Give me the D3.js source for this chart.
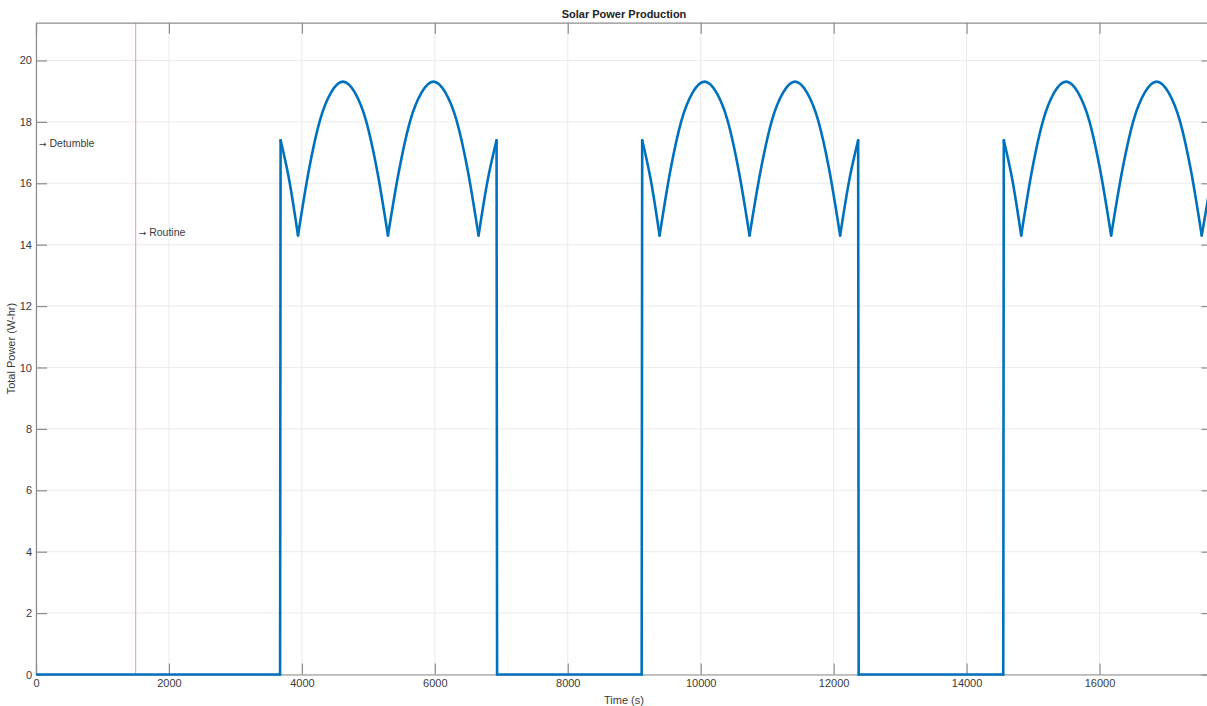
<!DOCTYPE html>
<html>
<head>
<meta charset="utf-8">
<script src="https://cdn.jsdelivr.net/npm/d3@7"></script>
<style>
  html, body { margin: 0; padding: 0; background: #fff; }
  svg { display: block; font-family: "Liberation Sans", Arial, Helvetica, sans-serif; }
</style>
</head>
<body>
<svg id="chart" width="1207" height="706"></svg>
<script>
// ---- data ----
const xTicks = [0, 2000, 4000, 6000, 8000, 10000, 12000, 14000, 16000];
const yTicks = [0, 2, 4, 6, 8, 10, 12, 14, 16, 18, 20];

const timeS = [
  0, 3672,
  3680, 3810, 3942, 4107, 4272, 4438, 4618, 4798, 4964, 5129, 5295,
  5465, 5632, 5800, 5980, 6160, 6327, 6493, 6658, 6795, 6929, 6937,
  9112,
  9120, 9250, 9382, 9547, 9712, 9878, 10058, 10238, 10404, 10569, 10735,
  10905, 11072, 11240, 11420, 11600, 11767, 11933, 12098, 12235, 12369, 12377,
  14552,
  14560, 14690, 14822, 14987, 15152, 15318, 15498, 15678, 15844, 16009, 16175,
  16345, 16512, 16680, 16860, 17040, 17207, 17373, 17538, 17708
];
const powerWh = [
  0, 0,
  17.4, 16.1, 14.3, 16.45, 18.05, 18.95, 19.31, 18.95, 18.05, 16.45, 14.3,
  16.45, 18.05, 18.95, 19.31, 18.95, 18.05, 16.45, 14.3, 16.1, 17.4, 0,
  0,
  17.4, 16.1, 14.3, 16.45, 18.05, 18.95, 19.31, 18.95, 18.05, 16.45, 14.3,
  16.45, 18.05, 18.95, 19.31, 18.95, 18.05, 16.45, 14.3, 16.1, 17.4, 0,
  0,
  17.4, 16.1, 14.3, 16.45, 18.05, 18.95, 19.31, 18.95, 18.05, 16.45, 14.3,
  16.45, 18.05, 18.95, 19.31, 18.95, 18.05, 16.45, 14.3, 16.45
];

const modeLineT = 1500;
const annotations = [
  { t: 0,    p: 17.3, label: "Detumble" },
  { t: 1500, p: 14.4, label: "Routine" }
];

const titleText = "Solar Power Production";
const xLabel = "Time (s)";
const yLabel = "Total Power (W-hr)";

// ---- layout ----
const svg = d3.select("#chart");
const L = 36, R = 1212.5, T = 22.7, B = 674.5;
const x = d3.scaleLinear().domain([0, 17700]).range([L, R]);
const y = d3.scaleLinear().domain([0, 21.23]).range([B, T]);

const axisColor = "#8c8c8c";
const textColor = "#3a3a3a";
const gridColor = "#ebebeb";

// clip
svg.append("defs").append("clipPath").attr("id", "clip")
  .append("rect").attr("x", L).attr("y", T).attr("width", R - L).attr("height", B - T + 3);

// grid
const grid = svg.append("g");
grid.selectAll(".gx").data(xTicks).join("line")
  .attr("x1", d => x(d)).attr("x2", d => x(d)).attr("y1", T).attr("y2", B)
  .attr("stroke", gridColor).attr("stroke-width", 1);
grid.selectAll(".gy").data(yTicks).join("line")
  .attr("x1", L).attr("x2", R).attr("y1", d => y(d)).attr("y2", d => y(d))
  .attr("stroke", gridColor).attr("stroke-width", 1);

// mode line
svg.append("line")
  .attr("x1", x(modeLineT)).attr("x2", x(modeLineT)).attr("y1", T).attr("y2", B)
  .attr("stroke", "#dba3ab").attr("stroke-width", 1);

// annotations
const ann = svg.selectAll(".ann").data(annotations).join("text")
  .attr("x", d => x(d.t) + 3).attr("y", d => y(d.p))
  .attr("dy", "0.35em")
  .attr("font-size", 10.5).attr("fill", textColor);
ann.append("tspan").attr("font-family", "'DejaVu Sans', sans-serif").attr("font-size", 9).text("\u2192");
ann.append("tspan").text(d => " " + d.label);

// axes (box with inward ticks)
const tickLen = 11;
const axB = svg.append("g").attr("transform", `translate(0,${B})`)
  .call(d3.axisBottom(x).tickValues(xTicks).tickSizeInner(-tickLen).tickSizeOuter(0).tickPadding(5).tickFormat(d3.format("d")));
const axT = svg.append("g").attr("transform", `translate(0,${T})`)
  .call(d3.axisTop(x).tickValues(xTicks).tickSizeInner(-tickLen).tickSizeOuter(0).tickFormat(""));
const axL = svg.append("g").attr("transform", `translate(${L},0)`)
  .call(d3.axisLeft(y).tickValues(yTicks).tickSizeInner(-tickLen).tickSizeOuter(0).tickPadding(4).tickFormat(d3.format("d")));
const axR = svg.append("g").attr("transform", `translate(${R},0)`)
  .call(d3.axisRight(y).tickValues(yTicks).tickSizeInner(-tickLen).tickSizeOuter(0).tickFormat(""));

[axB, axT, axL, axR].forEach(g => {
  g.select(".domain").attr("stroke", axisColor).attr("stroke-width", 1.2);
  g.selectAll(".tick line").attr("stroke", axisColor).attr("stroke-width", 1.2);
  g.selectAll(".tick text").attr("fill", textColor).attr("font-size", 11)
    .attr("font-family", "'Liberation Sans', Arial, sans-serif");
});

// data line: split at sharp corners (cusps and jumps), smooth within arches
const pts = timeS.map((t, i) => [t, powerWh[i]]);
const segments = [];
let cur = [pts[0]];
for (let i = 1; i < pts.length; i++) {
  cur.push(pts[i]);
  const prev = powerWh[i - 1], next = powerWh[i + 1];
  const isLast = i === pts.length - 1;
  const localMin = !isLast && prev > powerWh[i] && next > powerWh[i];
  const jump = prev === 0 || (!isLast && next === 0);
  if (!isLast && (localMin || jump)) {
    segments.push(cur);
    cur = [pts[i]];
  }
}
segments.push(cur);

const line = d3.line().x(d => x(d[0])).y(d => y(d[1])).curve(d3.curveMonotoneX);
svg.append("g").attr("clip-path", "url(#clip)")
  .selectAll("path").data(segments).join("path")
  .attr("d", line)
  .attr("fill", "none")
  .attr("stroke", "#0072BD")
  .attr("stroke-width", 2.6)
  .attr("stroke-linejoin", "round")
  .attr("stroke-linecap", "round");

// titles
svg.append("text").attr("x", 624).attr("y", 18)
  .attr("text-anchor", "middle").attr("font-size", 11).attr("font-weight", "bold")
  .attr("fill", "#222").text(titleText);
svg.append("text").attr("x", 624).attr("y", 704)
  .attr("text-anchor", "middle").attr("font-size", 11).attr("fill", textColor).text(xLabel);
svg.append("text").attr("transform", `translate(15,${(T + B) / 2}) rotate(-90)`)
  .attr("text-anchor", "middle").attr("font-size", 11).attr("fill", textColor).text(yLabel);
</script>
</body>
</html>
